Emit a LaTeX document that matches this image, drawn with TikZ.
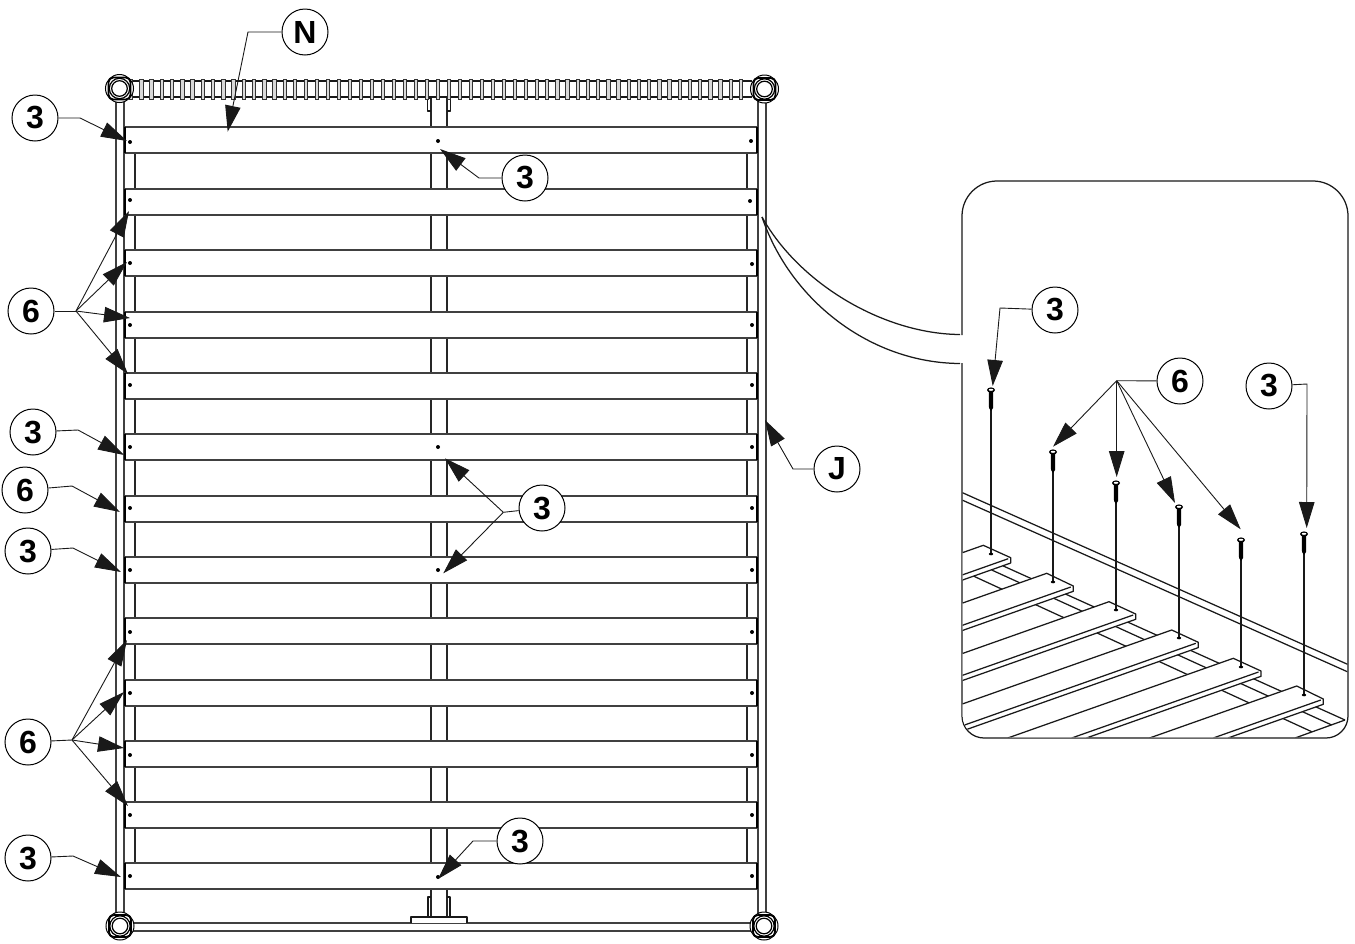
\documentclass[tikz,border=0pt]{standalone}
\usepackage{fontspec}
\setmainfont{Liberation Sans}
\usetikzlibrary{arrows.meta,calc}

\tikzset{
  screw/.pic={
    \fill[black] (-2.2,1) -- (2.2,1) -- (2,18) -- (0,21) -- (-2,18) -- cycle;
    \fill[black] (0,0) ellipse (4 and 2.6);
    \fill[white] (0,-0.2) ellipse (2.3 and 1);
  }
}

\newcommand{\inslat}[4]{% back corner x,y then front corner x,y
  \fill[white] (#1,#2) -- (#3,#4) -- (#3,#4+5.3) -- ++(-300,106) -- (#1-300,#2+106) -- cycle;
  \draw[fine] (#1-300,#2+106) -- (#1,#2) -- (#3,#4) -- (#3,#4+5.3) -- ++(-300,106);
  \draw[fine] (#3-2.5,#4+1) -- ++(-300,106);
}

\begin{document}
\begin{tikzpicture}[
    x=1pt,y=-1pt,
    fine/.style={line width=1.25pt,color=black!90,line join=round},
    rail/.style={line width=1.5pt,color=black!75},
    bar/.style={line width=1.2pt,color=black!85},
    rib/.style={line width=0.9pt,draw=black!80,fill=black!15},
    dotmark/.style={fill=black},
    lbl/.style={draw,circle,line width=1pt,fill=white,inner sep=0pt,minimum size=46pt,font=\fontsize{32}{32}\selectfont\bfseries},
    leader/.style={line width=0.9pt,color=black!90,-{Triangle[length=26pt,width=15.5pt]}},
    stem/.style={line width=0.9pt,color=black!90}
  ]
    \useasboundingbox (0,0) rectangle (1355,943);

    % Side rails and bottom rail
    \foreach \x in {116,124,758,766}
      \draw[rail] (\x,95) -- (\x,918);
    \draw[rail] (130,923) -- (754,923);
    \draw[rail] (130,931) -- (754,931);

    % Cross bars under the slats
    \draw[bar] (135,154) -- (135,863);
    \draw[bar] (747,154) -- (747,863);
    \draw[bar] (431,98) -- (431,917);
    \draw[bar] (447,98) -- (447,917);

    % Brackets of the middle bar
    \draw[fine] (431,98) -- (427.5,98) -- (427.5,111) -- (431,111);
    \draw[fine] (447,98) -- (450.5,98) -- (450.5,111) -- (447,111);
    \draw[fine] (431,897) -- (428,897) -- (428,917);
    \draw[fine] (447,897) -- (450,897) -- (450,917);
    \draw[fine,fill=white] (411,923) -- (411,917) -- (467,917) -- (467,923);

    % Coil along the top
    \draw[fine] (130,81) -- (752,81);
    \draw[fine] (130,97) -- (752,97);
    \foreach \i in {0,...,16}
      \draw[rib] ({131+10.25*\i-1.7},79.5) rectangle +(3.4,19.5);
    \foreach \i in {0,...,21}
      \draw[rib] ({305.7+11.01*\i-1.7},79.5) rectangle +(3.4,19.5);
    \foreach \i in {1,...,20}
      \draw[rib] ({537+10.2*\i-1.7},79.5) rectangle +(3.4,19.5);

    % Corner joints
    \foreach \x/\y in {119.5/88.5,764.5/89,120/926,764/926} {
      \draw[line width=1pt,fill=white] (\x,\y) circle (14);
      \draw[line width=1.6pt,rounded corners=5pt,fill=white] (\x-11,\y-11) rectangle (\x+11,\y+11);
      \draw[line width=1.2pt,fill=white] (\x,\y) circle (10.2);
      \draw[line width=1.2pt] (\x,\y) circle (7.8);
    }

    % Slats
    \foreach \y in {127,189,250,312,373,434,496,557,618,680,741,802,863} {
      \fill[white] (124,\y) rectangle (757,\y+26);
      \draw[rail] (124,\y) -- (757,\y);
      \draw[rail] (124,\y+26) -- (757,\y+26);
      \draw[line width=2pt] (124.5,\y) -- (124.5,\y+26);
      \draw[line width=2pt] (757,\y) -- (757,\y+26);
    }

    % Screw holes
    \foreach \x/\y in {130/142,130/200,130/263,130/325,130/385,130/447,130/508,130/570,130/632,130/693,130/755,130/815,130/876,
                       751/141,750/201,752/264,752/325,752/385,752/447,752/508,752/570,752/632,752/693,752/755,752/815,752/876,
                       438/141,438/447,438/570,438/877}
      \fill[dotmark] (\x,\y) circle (2);

    % Detail frame
    \draw[fine] (962,335) [rounded corners=35pt] -- (962,181) -- (1348,181) [rounded corners=22pt] -- (1348,738) -- (962,738) [sharp corners] -- (962,363);

    % Curves to the detail
    \coordinate (spot) at (762,217);
    \coordinate (frameup) at (960,334.5);
    \coordinate (framelo) at (960,363.5);
    \draw[fine] (spot) .. controls (800,285) and (885,334) .. (frameup);
    \draw[fine] (spot) .. controls (790,300) and (870,363) .. (framelo);

    % Detail: wall, joists and slats
    \begin{scope}
      \clip[rounded corners=22pt] (962.6,400) rectangle (1347.4,737.4);
      \draw[fine] (962,492.5) -- (1348,664.5);
      \draw[fine] (962,500) -- (1348,672);
      \draw[fine] (973.3,576) -- (1311.7,731.7);
      \draw[fine] (991.7,570) -- (1331.7,725);
      \draw[fine] (1003.3,566) -- (1345,720);
      \draw[fine] (1345,720) -- (1295,738);
      \inslat{983.3}{545.3}{1010.7}{557.7}
      \inslat{1046.7}{573.3}{1073.3}{586}
      \inslat{1109}{601.7}{1135.7}{614}
      \inslat{1171.7}{630}{1198.3}{642.3}
      \inslat{1233.3}{658.3}{1261}{671}
      \inslat{1296.7}{686}{1323.3}{699}
    \end{scope}

    % Detail: screws
    \foreach \x/\y/\e in {991/390/554,1053/452/582,1116/483/610,1179/507/638,1241/540/667,1304/534/695} {
      \draw[fine] (\x,\y) -- (\x,\e);
      \fill[black] (\x,\e) ellipse (2.2 and 1.3);
      \pic at (\x,\y) {screw};
    }

    % Labels
    \node[lbl] (labN) at (305,32) {N};
    \node[lbl] (labJ) at (837,469) {J};
    \node[lbl] (labA) at (35,118) {3};
    \node[lbl] (labB) at (525,178) {3};
    \node[lbl] (labC) at (31,311) {6};
    \node[lbl] (labD) at (33,432) {3};
    \node[lbl] (labE) at (25,490) {6};
    \node[lbl] (labF) at (28,551) {3};
    \node[lbl] (labG) at (542,508) {3};
    \node[lbl] (labH) at (28,742) {6};
    \node[lbl] (labI) at (28,858) {3};
    \node[lbl] (labK) at (520,841) {3};
    \node[lbl] (labL) at (1055,310) {3};
    \node[lbl] (labM) at (1180,381) {6};
    \node[lbl] (labO) at (1269,386) {3};

    % Single leaders
    \foreach \lab/\kx/\ky/\tx/\ty in {labN/248/32/227.7/131.7,labA/80/118/127/141,labB/479/178/440/149,
        labD/78/430/124/455,labE/72/486/120/512,labF/73/548/121/572,labI/73/856/121/877,
        labK/473/841/438/879,labJ/793/469/765/420,labL/1000/308/992.7/386,labO/1307/384/1306.7/528} {
      \coordinate (end\lab) at (\tx,\ty);
      \draw[leader] (\lab) -- (\kx,\ky) -- (end\lab);
    }

    % Fans of leaders
    \coordinate (forkC) at (76,311);
    \coordinate (forkG) at (503.3,512.3);
    \coordinate (forkH) at (72,740);
    \coordinate (forkM) at (1116.7,380.7);
    \draw[stem] (labC) -- (forkC);
    \draw[stem] (labG) -- (forkG);
    \draw[stem] (labH) -- (forkH);
    \draw[stem] (labM) -- (forkM);
    \foreach \fork/\tx/\ty in {forkC/129/211,forkC/127/262,forkC/130/318,forkC/128/374,
        forkG/445/458.3,forkG/443.3/573.3,
        forkH/127/640,forkH/124/692,forkH/124/748,forkH/128/806,
        forkM/1053/446.7,forkM/1116.7/477,forkM/1175/503,forkM/1240.7/529.3}
      \draw[leader] (\fork) -- (\tx,\ty);
\end{tikzpicture}
\end{document}
